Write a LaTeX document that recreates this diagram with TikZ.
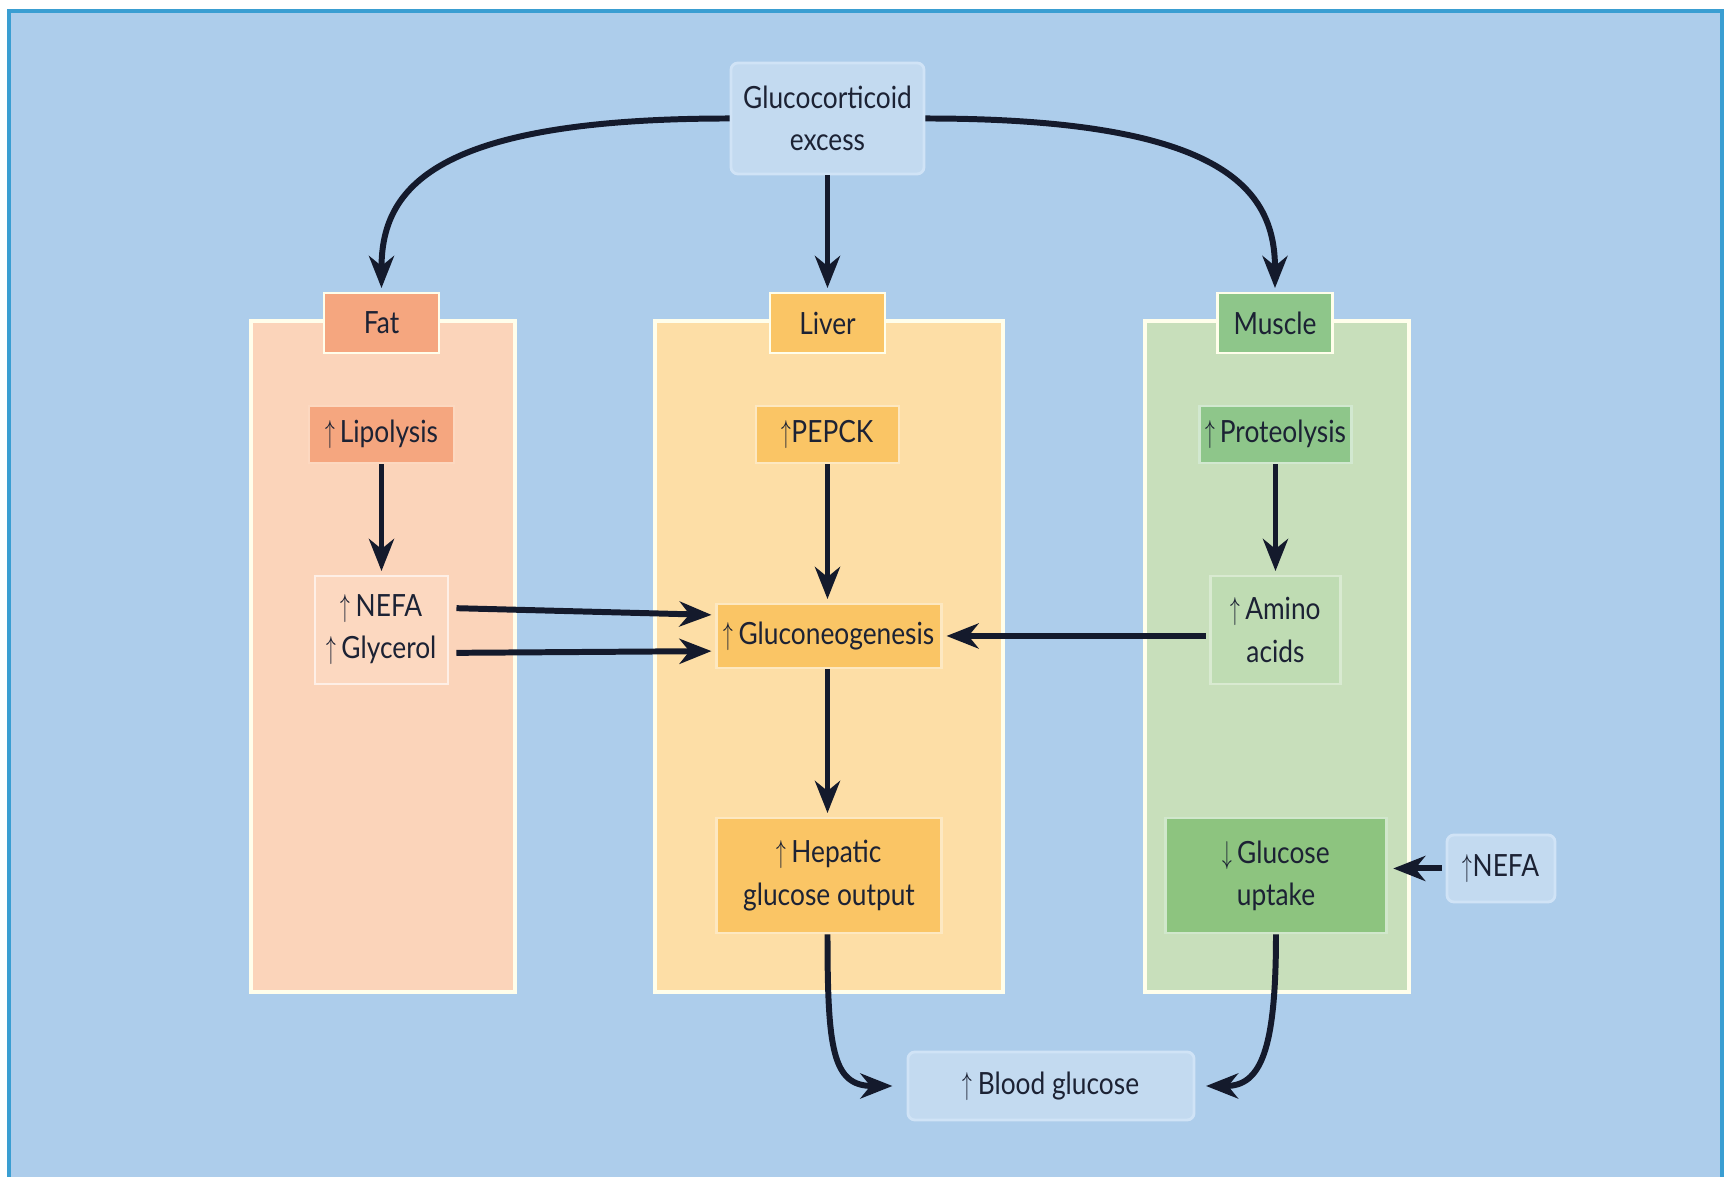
\documentclass[tikz,border=0pt]{standalone}
\usepackage{fontspec}
\setmainfont{Lato}[FakeStretch=0.86]
\usetikzlibrary{arrows.meta}
\definecolor{bgc}{HTML}{ADCDEB}
\definecolor{framec}{HTML}{3A9ED2}
\definecolor{txt}{HTML}{1C2234}
\definecolor{arrc}{HTML}{141A2C}
\definecolor{fatpan}{HTML}{FBD4BA}
\definecolor{fatdark}{HTML}{F5A67F}
\definecolor{fatmid}{HTML}{FCD8C0}
\definecolor{livpan}{HTML}{FDDEA6}
\definecolor{livdark}{HTML}{FAC565}
\definecolor{muspan}{HTML}{C8DFBB}
\definecolor{musdark}{HTML}{8EC68A}
\definecolor{musmid}{HTML}{BFDCB3}
\definecolor{upt}{HTML}{8DC47F}
\definecolor{lbfill}{HTML}{C3DAF0}
\definecolor{lbdraw}{HTML}{D0E3F6}
\newcommand{\myup}{\scalebox{0.6}[1]{$\uparrow$}}
\newcommand{\mydown}{\scalebox{0.6}[1]{$\downarrow$}}
\tikzset{
  base/.style={inner sep=0pt, align=center, text=txt,
    font=\fontsize{8.7}{12}\selectfont, line width=0.8pt},
  panel/.style={base, draw=white!92!yellow, line width=1pt},
  lblbox/.style={base, draw=white!92!yellow},
  lbbox/.style={base, fill=lbfill, draw=lbdraw, rounded corners=2pt},
  arr/.style={-{Stealth[length=3.2mm,width=2.5mm,inset=1mm]}, line width=1.7pt, draw=arrc},
}
\begin{document}
\begin{tikzpicture}[x=0.01cm,y=-0.01cm]
\useasboundingbox (0,0) rectangle (1729,1177);
\fill[white] (0,0) rectangle (1729,1177);
\draw[fill=bgc, draw=framec, line width=1.3pt] (9,11) rectangle (1722,1182);

% panels
\node[panel, fill=fatpan, minimum width=2.64cm, minimum height=6.71cm] (fatpanel) at (383,656.5) {};
\node[panel, fill=livpan, minimum width=3.48cm, minimum height=6.71cm] (livpanel) at (829,656.5) {};
\node[panel, fill=muspan, minimum width=2.64cm, minimum height=6.71cm] (muspanel) at (1277,656.5) {};

% top
\node[lbbox, minimum width=1.93cm, minimum height=1.11cm] (gc) at (827.5,118.5) {Glucocorticoid\\excess};

% labels
\node[lblbox, fill=fatdark, minimum width=1.15cm, minimum height=0.60cm] (fatlab) at (381.5,323) {Fat};
\node[lblbox, fill=livdark, minimum width=1.15cm, minimum height=0.60cm] (livlab) at (827.5,323) {Liver};
\node[lblbox, fill=musdark, minimum width=1.15cm, minimum height=0.60cm] (muslab) at (1275,323) {Muscle};

% fat column
\node[base, fill=fatdark, draw=fatmid, minimum width=1.45cm, minimum height=0.57cm] (lipo) at (381.5,434.5) {\myup\,Lipolysis};
\node[base, fill=fatmid, draw=white!60!fatmid, minimum width=1.33cm, minimum height=1.08cm] (nefa) at (381.5,630) {\myup\,NEFA\\\myup\,Glycerol};

% liver column
\node[base, fill=livdark, draw=white!60!livdark, minimum width=1.43cm, minimum height=0.57cm] (pepck) at (827.5,434.5) {\myup PEPCK};
\node[base, fill=livdark, draw=white!60!livdark, minimum width=2.25cm, minimum height=0.64cm] (gng) at (829,636) {\myup\,Gluconeogenesis};
\node[base, fill=livdark, draw=white!60!livdark, minimum width=2.25cm, minimum height=1.15cm] (hgo) at (829,875.5) {\myup\,Hepatic\\glucose output};

% muscle column
\node[base, fill=musdark, draw=white!60!musdark, minimum width=1.52cm, minimum height=0.57cm] (prot) at (1275.5,434.5) {\myup\,Proteolysis};
\node[base, fill=musmid, draw=white!40!musmid, minimum width=1.30cm, minimum height=1.08cm] (amino) at (1275.5,630) {\myup\,Amino\\acids};
\node[base, fill=upt, draw=white!60!upt, minimum width=2.21cm, minimum height=1.15cm] (upt) at (1276,875.5) {\mydown\,Glucose\\uptake};

% outside
\node[lbbox, minimum width=1.08cm, minimum height=0.67cm] (nefa2) at (1501,868.5) {\myup NEFA};
\node[lbbox, minimum width=2.86cm, minimum height=0.68cm] (blood) at (1051,1086) {\myup\,Blood glucose};

% arrows
\draw[arr] (gc.west) .. controls +(-296,0) and +(0,-100) .. ([yshift=1pt]fatlab.north);
\draw[arr] (gc.east) .. controls +(296,0) and +(0,-100) .. ([yshift=1pt]muslab.north);
\draw[arr] (gc.south) -- ([yshift=1pt]livlab.north);

\draw[arr] (lipo.south) -- ([yshift=1pt]nefa.north);
\draw[arr] (pepck.south) -- ([yshift=1pt]pepck.south |- gng.north);
\draw[arr] (prot.south) -- ([yshift=1pt]amino.north);

\draw[arr] ([xshift=2pt,yshift=6.2pt]nefa.east) -- ([xshift=-1pt,yshift=6pt]gng.west);
\draw[arr] ([xshift=2pt,yshift=-6.5pt]nefa.east) -- ([xshift=-1pt,yshift=-4.3pt]gng.west);
\draw[arr] ([xshift=-1pt]amino.west |- gng.east) -- ([xshift=1pt]gng.east);

\draw[arr] (pepck.south |- gng.south) -- ([yshift=1pt]pepck.south |- hgo.north);
\draw[arr] ([xshift=-1pt]nefa2.west) -- ([xshift=1.5pt]nefa2.west -| upt.east);

\draw[arr] (pepck.south |- hgo.south) .. controls +(0,115) and +(-60,0) .. ([xshift=-4pt]blood.west);
\draw[arr] (upt.south) .. controls +(0,115) and +(55,0) .. ([xshift=3pt]blood.east);
\end{tikzpicture}
\end{document}
